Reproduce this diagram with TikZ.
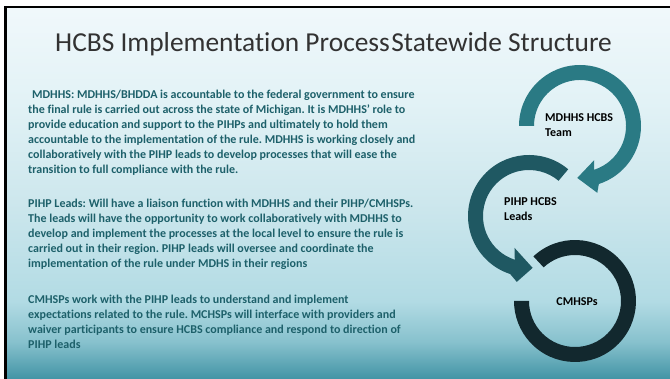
\documentclass[tikz,border=0pt]{standalone}
\usepackage{fontspec}
\setmainfont{Carlito}[Ligatures=CommonOff]
\usetikzlibrary{calc}
\frenchspacing
\definecolor{bgtop}{RGB}{240,248,251}
\definecolor{bgA}{RGB}{226,242,246}
\definecolor{bgB}{RGB}{205,231,237}
\definecolor{bgC}{RGB}{178,219,228}
\definecolor{bgD}{RGB}{135,193,205}
\definecolor{bgbot}{RGB}{66,148,165}
\definecolor{ringA}{RGB}{42,122,132}
\definecolor{ringB}{RGB}{31,88,98}
\definecolor{ringC}{RGB}{18,40,46}
\definecolor{bodytxt}{RGB}{29,96,106}
\definecolor{titletxt}{RGB}{50,50,50}
\pgfdeclareverticalshading{slidebg}{100bp}{color(0bp)=(bgbot); color(25bp)=(bgbot); color(30bp)=(bgD); color(35.5bp)=(bgC); color(49bp)=(bgB); color(62.5bp)=(bgA); color(75bp)=(bgtop); color(100bp)=(bgtop)}
\tikzset{
  para/.style={anchor=north west, inner sep=0pt, align=left, text=bodytxt,
    font=\fontsize{12}{15}\selectfont\bfseries},
  ringlabel/.style={inner sep=0pt, align=left, text=black,
    font=\fontsize{12}{15}\selectfont\bfseries},
}
\begin{document}
\begin{tikzpicture}[x=1pt,y=1pt]
\useasboundingbox (0,0) rectangle (670,-379);
\fill[white] (0,0) rectangle (670,-379);
\fill[black] (4,-6) rectangle (670,-379);
\shade[shading=slidebg] (7,-9) rectangle (670,-379);

\node[anchor=west, inner sep=0pt, text=titletxt, font=\fontsize{27.4}{32}\selectfont] (title) at (55,-44)
  {HCBS Implementation Process\hspace{1.5pt}Statewide Structure};

\node[para] (p1) at (28,-89.5) {\hspace{4pt}MDHHS: MDHHS/BHDDA is accountable to the federal government to ensure\\
the final rule is carried out across the state of Michigan. It is MDHHS’ role to\\
provide education and support to the PIHPs and ultimately to hold them\\
accountable to the implementation of the rule. MDHHS is working closely and\\
collaboratively with the PIHP leads to develop processes that will ease the\\
transition to full compliance with the rule.};

\node[para] (p2) at (28,-198.5) {PIHP Leads: Will have a liaison function with MDHHS and their PIHP/CMHSPs.\\
The leads will have the opportunity to work collaboratively with MDHHS to\\
develop and implement the processes at the local level to ensure the rule is\\
carried out in their region. PIHP leads will oversee and coordinate the\\
implementation of the rule under MDHS in their regions};

\node[para] (p3) at (28,-294.5) {CMHSPs work with the PIHP leads to understand and implement\\
expectations related to the rule. MCHSPs will interface with providers and\\
waiver participants to ensure HCBS compliance and respond to direction of\\
PIHP leads};

% ring 1
\coordinate (c1) at (580,-126);
\fill[ringA] ($(c1)+(180:61)$) arc[start angle=180, end angle=-72, radius=61]
  -- ($(c1)+(-75.5:69)$) -- ($(c1)+(-93:52)$) -- ($(c1)+(-67.5:37)$)
  -- ($(c1)+(-72:46)$) arc[start angle=-72, end angle=180, radius=46] -- cycle;
% ring 2
\coordinate (c2) at (529,-216);
\fill[ringB] ($(c2)+(50:61)$) arc[start angle=50, end angle=252, radius=61]
  -- ($(c2)+(259.5:67)$) -- ($(c2)+(274:52)$) -- ($(c2)+(245.5:35)$)
  -- ($(c2)+(252:46)$) arc[start angle=252, end angle=50, radius=46] -- cycle;
% ring 3
\coordinate (c3) at (575,-301);
\fill[ringC] ($(c3)+(133:61)$) arc[start angle=133, end angle=-180, radius=61]
  -- ($(c3)+(180:46)$) arc[start angle=-180, end angle=133, radius=46] -- cycle;

\node[ringlabel, anchor=west] (l1) at (545,-125.5) {MDHHS HCBS\\Team};
\node[ringlabel, anchor=west] (l2) at (504,-209.5) {PIHP HCBS\\Leads};
\node[ringlabel] (l3) at (577,-302) {CMHSPs};
\end{tikzpicture}
\end{document}
